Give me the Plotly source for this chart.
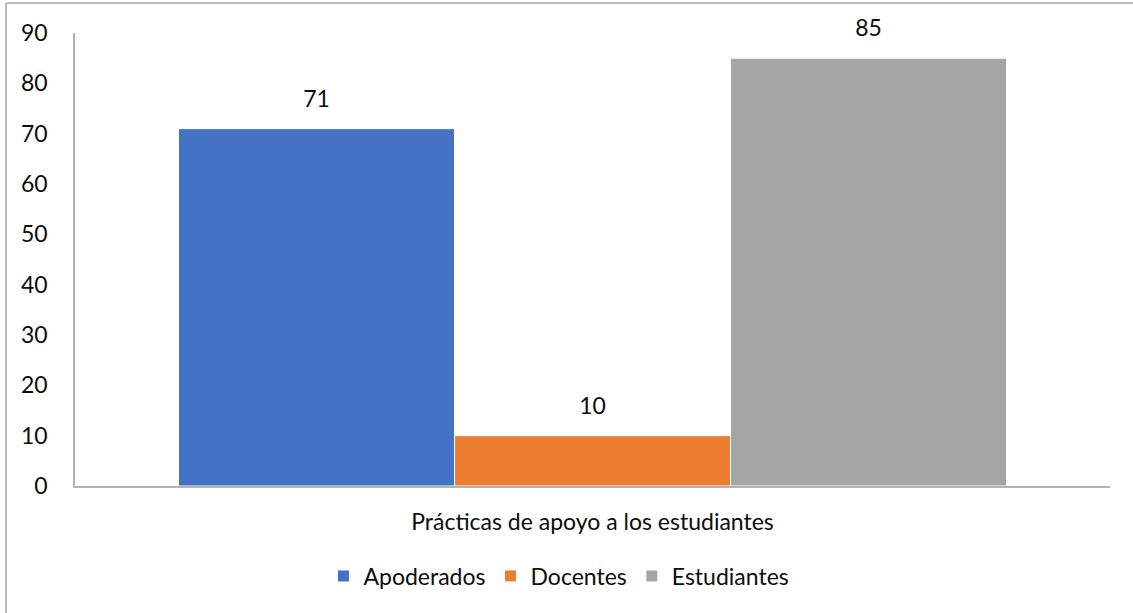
import plotly.graph_objects as go

category = ["Prácticas de apoyo a los estudiantes"]
series_names = ["Apoderados", "Docentes", "Estudiantes"]
series_values = [[71], [10], [85]]
colors = ["#4472C4", "#ED7D31", "#A5A5A5"]
y_ticks = [0, 10, 20, 30, 40, 50, 60, 70, 80, 90]

W, H = 1133, 613
L, R, T, B = 75, 23, 33, 127
pw, ph = W - L - R, H - T - B

FONT = "Lato"
FS = 23
TXT = "#0d0d0d"

fig = go.Figure()
for i, (name, vals, col) in enumerate(zip(series_names, series_values, colors)):
    fig.add_trace(go.Bar(
        name=name, x=category, y=vals,
        offsetgroup=str(i), alignmentgroup="g",
        marker=dict(color=col, line=dict(color="white", width=1)),
        hoverinfo="skip",
    ))
for i, vals in enumerate(series_values):
    fig.add_trace(go.Scatter(
        x=category, y=vals, mode="markers+text",
        offsetgroup=str(i), alignmentgroup="g",
        text=[str(v) for v in vals], textposition="top center",
        textfont=dict(family=FONT, size=FS, color=TXT),
        marker=dict(size=24, opacity=0),
        showlegend=False, cliponaxis=False, hoverinfo="skip",
    ))

def px_x(p):
    return (p - L) / pw

def px_y(p):
    return (H - B - p) / ph

# outer chart border (top and left visible)
fig.add_shape(type="line", xref="paper", yref="paper",
              x0=px_x(6), x1=px_x(1140), y0=px_y(3), y1=px_y(3),
              line=dict(color="#a6a6a6", width=1.5))
fig.add_shape(type="line", xref="paper", yref="paper",
              x0=px_x(6), x1=px_x(6), y0=px_y(3), y1=px_y(620),
              line=dict(color="#a6a6a6", width=1.5))

fig.update_layout(
    width=W, height=H,
    margin=dict(l=L, r=R, t=T, b=B, pad=0),
    paper_bgcolor="white", plot_bgcolor="white",
    barmode="group", bargap=0.2, bargroupgap=0,
    scattermode="group", scattergap=0.2,
    font=dict(family=FONT, size=FS, color=TXT),
    legend=dict(orientation="h", x=px_x(559), xanchor="center",
                y=px_y(576), yanchor="middle",
                font=dict(family=FONT, size=FS, color=TXT),
                itemwidth=30, traceorder="normal"),
    yaxis=dict(range=[0, 90], tickvals=y_ticks, showgrid=False,
               showline=True, linecolor="#b3b3b3", linewidth=1.5,
               ticks="", ticklabelstandoff=21, zeroline=False,
               tickfont=dict(family=FONT, size=FS, color=TXT)),
    xaxis=dict(showline=True, linecolor="#b3b3b3", linewidth=1.5,
               ticks="", ticklabelstandoff=15,
               tickfont=dict(family=FONT, size=FS, color=TXT)),
)

fig.write_html("out.html")
